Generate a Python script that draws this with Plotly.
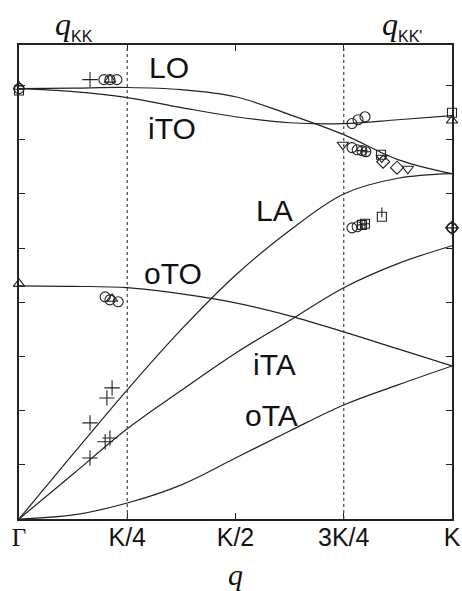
import plotly.graph_objects as go

# wave vector along Gamma -> K (units of K) and branch frequencies (cm^-1)
q_branch = [0, 0.125, 0.25, 0.375, 0.5, 0.625, 0.75, 0.875, 1.0]
lo_w = [1589, 1591, 1593, 1585, 1559, 1493, 1419, 1327, 1275]
ito_w = [1589, 1578, 1556, 1519, 1485, 1463, 1460, 1474, 1489]
la_w = [0, 240, 477, 700, 900, 1065, 1200, 1258, 1275]
ita_w = [0, 166, 333, 475, 612, 733, 854, 943, 1009]
oto_w = [861, 859, 854, 831, 798, 750, 691, 628, 565]
ota_w = [0, 15, 59, 126, 225, 325, 421, 495, 565]

branch_names = ['LO', 'iTO', 'LA', 'iTA', 'oTO', 'oTA']
branch_label_q = [0.346, 0.353, 0.589, 0.591, 0.356, 0.582]
branch_label_w = [1666, 1441, 1138, 569, 905, 381]

# experimental points
circle_q = [0, 0.196, 0.210, 0.226, 0.199, 0.210, 0.229, 0.769, 0.783, 0.799, 0.769, 0.781, 0.769, 0.781, 1.0]
circle_w = [1589, 1622, 1622, 1622, 820, 809, 802, 1460, 1474, 1485, 1371, 1363, 1075, 1079, 1075]
plus_q = [0.164, 0.215, 0.203, 0.164, 0.210, 0.199, 0.164]
plus_w = [1622, 484, 447, 355, 299, 285, 225]
triup_q = [0, 0.210, 0, 0.215, 1.0]
triup_w = [1596, 1622, 868, 813, 1471]
tridown_q = [0.748, 0.838, 0.898]
tridown_w = [1382, 1334, 1293]
square_q = [0, 1.0, 0.836, 0.838]
square_w = [1582, 1500, 1345, 1116]
diamond_q = [0.841, 0.873, 1.0]
diamond_w = [1319, 1297, 1075]
ccross_q = [0.792, 0.801, 1.0]
ccross_w = [1360, 1356, 1075]
scross_q = [0.792, 0.799]
scross_w = [1086, 1090]
bar_q = [0.838]
bar_w = [1132]

tick_vals = [0, 0.25, 0.5, 0.75, 1.0]
tick_text = ['<span style="font-family:Liberation Serif">Γ</span>', 'K/4', 'K/2', '3K/4', 'K']

fig = go.Figure()

for w in [lo_w, ito_w, la_w, ita_w, oto_w, ota_w]:
    fig.add_trace(go.Scatter(x=q_branch, y=w, mode='lines', line=dict(color='#222', width=1.2, shape='spline'),
                             showlegend=False, hoverinfo='skip'))

markers = [
    (circle_q, circle_w, 'circle-open', 10),
    (plus_q, plus_w, 'cross-thin-open', 11),
    (triup_q, triup_w, 'triangle-up-open', 10),
    (tridown_q, tridown_w, 'triangle-down-open', 10),
    (square_q, square_w, 'square-open', 9),
    (diamond_q, diamond_w, 'diamond-open', 10),
    (ccross_q, ccross_w, 'circle-cross-open', 10),
    (scross_q, scross_w, 'square-cross-open', 9),
    (bar_q, bar_w, 'line-ns-open', 7),
]
for xs, ys, sym, size in markers:
    fig.add_trace(go.Scatter(x=xs, y=ys, mode='markers', cliponaxis=False, showlegend=False,
                             marker=dict(symbol=sym, size=size, color='#222', line=dict(color='#222', width=1.1))))

# dotted guides at K/4 and 3K/4
for xv in [0.25, 0.75]:
    fig.add_shape(type='line', x0=xv, x1=xv, y0=0, y1=1, yref='paper',
                  line=dict(color='#444', width=1.2, dash='dot'))

for name, xq, yw in zip(branch_names, branch_label_q, branch_label_w):
    fig.add_annotation(x=xq, y=yw, text=name, showarrow=False, xanchor='center', yanchor='middle',
                       font=dict(family='Liberation Sans', size=30, color='#111'))

qfont = dict(family='Liberation Serif', size=32, color='#111')
fig.add_annotation(x=0.5, y=0, xref='paper', yref='paper', yshift=-55, showarrow=False,
                   text='<i>q</i>', font=dict(family='Liberation Serif', size=30, color='#111'),
                   xanchor='center', yanchor='middle')
fig.add_annotation(x=0.127, y=1, xref='paper', yref='paper', yshift=20, showarrow=False,
                   text='<i>q</i><sub><span style="font-family:Liberation Sans;font-size:16px">KK</span></sub>',
                   font=qfont, xanchor='center', yanchor='middle')
fig.add_annotation(x=0.885, y=1, xref='paper', yref='paper', yshift=20, showarrow=False,
                   text="<i>q</i><sub><span style=\"font-family:Liberation Sans;font-size:16px\">KK'</span></sub>",
                   font=qfont, xanchor='center', yanchor='middle')

fig.update_xaxes(range=[0, 1], tickvals=tick_vals, ticktext=tick_text, ticks='inside', ticklen=6,
                 tickcolor='#222', mirror='allticks', showline=True, linecolor='#222', linewidth=1.5,
                 showgrid=False, zeroline=False, automargin=False, ticklabelstandoff=-5,
                 tickfont=dict(family='Liberation Sans', size=25, color='#111'))
fig.update_yaxes(range=[0, 1750], tickvals=list(range(0, 1601, 200)), showticklabels=False,
                 ticks='inside', ticklen=6, tickcolor='#222', mirror='allticks', showline=True,
                 linecolor='#222', linewidth=1.5, showgrid=False, zeroline=False, automargin=False)

fig.update_layout(width=462, height=591, margin=dict(l=19, r=10, t=45, b=72),
                  plot_bgcolor='white', paper_bgcolor='white')

fig.write_html("out.html", config={'displayModeBar': False},
               post_script="document.body.style.margin='0';document.body.style.overflow='hidden';")
